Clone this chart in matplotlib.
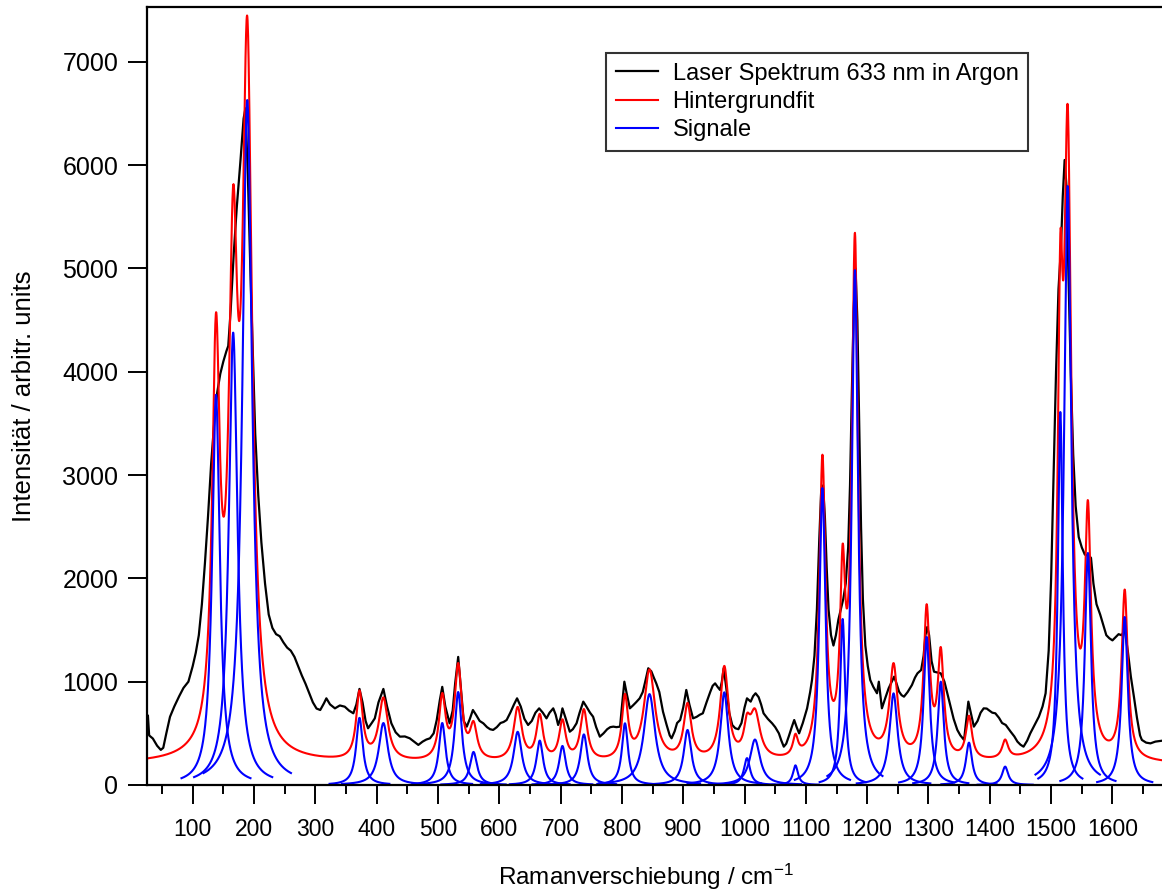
import numpy as np
import matplotlib
matplotlib.use("Agg")
import matplotlib.pyplot as plt

plt.rcParams['font.family'] = ['Liberation Sans', 'DejaVu Sans']
plt.rcParams['mathtext.default'] = 'regular'

# gemessenes Spektrum (Ramanverschiebung in cm-1, Intensitaet)
spec_x = [27, 29, 35, 42, 48, 52, 57, 63, 70, 78, 85, 93, 100, 105, 110, 115, 120, 125, 130, 135,
          140, 145, 150, 155, 158, 162, 167, 172, 178, 183, 186, 190, 194, 198, 202, 207, 212, 218, 224, 230,
          236, 242, 248, 254, 260, 266, 272, 278, 284, 290, 296, 302, 308, 314, 318, 324, 332, 340, 348, 355,
          362, 367, 372, 377, 382, 386, 392, 397, 403, 411, 417, 424, 431, 438, 446, 454, 461, 468, 475, 481,
          487, 493, 498, 503, 507, 512, 519, 524, 528, 533, 538, 542, 547, 552, 557, 562, 568, 574, 580, 585,
          590, 596, 602, 607, 612, 618, 624, 629, 635, 641, 647, 653, 659, 665, 671, 677, 682, 688, 692, 696,
          700, 703, 708, 715, 720, 726, 731, 737, 742, 748, 753, 758, 764, 770, 776, 781, 786, 791, 797, 800,
          804, 808, 813, 818, 823, 829, 834, 838, 843, 848, 852, 856, 861, 867, 873, 878, 881, 886, 890, 895,
          900, 905, 910, 916, 922, 927, 932, 938, 944, 948, 952, 956, 960, 963, 966, 970, 975, 980, 985, 990,
          995, 1000, 1004, 1010, 1014, 1018, 1023, 1027, 1031, 1038, 1045, 1050, 1056, 1060, 1064, 1068, 1072, 1077, 1081, 1085,
          1089, 1095, 1102, 1107, 1110, 1114, 1118, 1122, 1125, 1128, 1131, 1134, 1137, 1141, 1145, 1149, 1153, 1157, 1161, 1165,
          1169, 1172, 1175, 1178, 1181, 1184, 1187, 1190, 1193, 1197, 1201, 1205, 1210, 1216, 1219, 1224, 1230, 1235, 1240, 1244,
          1248, 1252, 1256, 1260, 1266, 1273, 1278, 1282, 1288, 1292, 1295, 1298, 1301, 1305, 1309, 1314, 1320, 1326, 1331, 1336,
          1341, 1347, 1352, 1358, 1362, 1365, 1369, 1374, 1380, 1385, 1390, 1395, 1398, 1404, 1409, 1415, 1420, 1426, 1434, 1440,
          1445, 1450, 1455, 1461, 1466, 1473, 1480, 1486, 1491, 1496, 1500, 1504, 1508, 1512, 1516, 1519, 1522, 1525, 1528, 1532,
          1536, 1540, 1545, 1550, 1555, 1560, 1565, 1569, 1574, 1580, 1585, 1590, 1595, 1600, 1605, 1610, 1615, 1620, 1625, 1630,
          1635, 1640, 1645, 1648, 1655, 1662, 1670, 1682, 1695]
spec_y = [670, 480, 450, 380, 340, 360, 500, 660, 760, 860, 940, 1000, 1150, 1280, 1450, 1750, 2150, 2600, 3100, 3500,
          3800, 3980, 4100, 4200, 4250, 4600, 5150, 5600, 6050, 6450, 6550, 5900, 5000, 4200, 3400, 2800, 2350, 1950, 1650, 1520,
          1460, 1440, 1380, 1330, 1300, 1240, 1150, 1060, 980, 890, 800, 740, 726, 790, 839, 780, 742, 770, 758, 720,
          694, 780, 930, 800, 620, 549, 600, 645, 800, 930, 760, 597, 510, 468, 470, 452, 420, 388, 420, 440,
          452, 500, 629, 820, 950, 760, 597, 720, 980, 1240, 900, 620, 565, 640, 726, 680, 620, 597, 560, 540,
          533, 560, 600, 610, 629, 700, 780, 839, 760, 640, 581, 620, 700, 742, 700, 645, 700, 742, 680, 581,
          650, 742, 650, 516, 540, 597, 700, 807, 760, 700, 661, 560, 468, 500, 540, 560, 565, 560, 565, 760,
          1000, 880, 742, 770, 800, 839, 900, 1000, 1130, 1100, 1040, 984, 900, 710, 580, 480, 452, 520, 600, 629,
          750, 920, 780, 645, 660, 680, 694, 800, 900, 960, 984, 950, 920, 1000, 1130, 950, 700, 580, 549, 540,
          600, 750, 839, 807, 860, 888, 850, 780, 694, 640, 597, 560, 500, 430, 371, 400, 468, 560, 629, 560,
          500, 600, 742, 900, 1016, 1250, 1700, 2400, 2850, 2900, 2600, 2100, 1700, 1450, 1350, 1450, 1600, 1700, 1800, 1950,
          2300, 2900, 3800, 4600, 5000, 4500, 3500, 2500, 1800, 1350, 1150, 1016, 950, 888, 1000, 742, 850, 936, 1000, 1049,
          980, 904, 870, 855, 900, 968, 1040, 1081, 1113, 1250, 1450, 1530, 1450, 1200, 1097, 1090, 1081, 1000, 880, 758,
          640, 533, 480, 436, 650, 807, 700, 565, 620, 700, 742, 740, 726, 700, 694, 650, 600, 581, 516, 470,
          420, 390, 371, 430, 500, 580, 661, 760, 888, 1300, 2000, 3000, 4000, 4800, 5200, 5700, 6050, 5800, 5000, 4000,
          3200, 2700, 2400, 2300, 2230, 2220, 2200, 1950, 1750, 1650, 1550, 1450, 1420, 1400, 1430, 1460, 1450, 1500, 1300, 1050,
          855, 650, 480, 436, 410, 403, 420, 430, 430]

# Lorentz-Signale: Lage, Hoehe, Halbwertsbreite (HWHM)
peak_pos = [138, 166, 189, 372, 411, 507, 533, 558, 630, 666, 703, 738, 805, 845, 907, 967,
            1004, 1017, 1083, 1127, 1160, 1180, 1243, 1297, 1320, 1366, 1425, 1515, 1527, 1560, 1620]
peak_height = [3778, 4380, 6632, 650, 600, 600, 900, 320, 515, 430, 378, 490, 597, 880, 533, 897,
               260, 440, 190, 2875, 1607, 4985, 887, 1433, 1000, 410, 178, 3611, 5799, 2246, 1626]
peak_hwhm = [7.5, 8.5, 9.5, 6.5, 9, 6.5, 7, 7, 8, 6.5, 6.5, 7, 6, 11, 7.5, 8,
             6, 10, 5, 6, 5, 6, 8, 6, 6, 6, 6, 4.8, 7, 6, 6]
background = 200


def lorentz(x, c, a, w):
    return a / (1.0 + ((x - c) / w) ** 2)


x_fit = np.linspace(25, 1695, 4000)
fit = background + sum(lorentz(x_fit, c, a, w) for c, a, w in zip(peak_pos, peak_height, peak_hwhm))

fig = plt.figure(figsize=(11.62, 8.94), dpi=100)
ax = fig.add_axes([146.7 / 1162, 109 / 894, 1024 / 1162, 778 / 894])

ax.plot(spec_x, spec_y, color='black', lw=1.6, label='Laser Spektrum 633 nm in Argon')
ax.plot(x_fit, fit, color='red', lw=1.5, label='Hintergrundfit')
for i, (c, a, w) in enumerate(zip(peak_pos, peak_height, peak_hwhm)):
    xs = np.linspace(c - 7.5 * w, c + 7.5 * w, 400)
    ax.plot(xs, lorentz(xs, c, a, w), color='blue', lw=1.5,
            label='Signale' if i == 0 else None)

ax.set_xlim(25, 1695)
ax.set_ylim(0, 7531)
ax.set_xticks(np.arange(100, 1700, 100))
ax.set_xticks(np.arange(50, 1700, 100), minor=True)
ax.set_yticks(np.arange(0, 8000, 1000))
ax.tick_params(axis='both', which='major', direction='out', length=13.5, width=1.4)
ax.tick_params(axis='x', which='minor', direction='out', length=6.5, width=1.4)
ax.tick_params(axis='x', labelsize=16.5, pad=10)
ax.tick_params(axis='y', labelsize=18, pad=7)
ax.tick_params(top=False, right=False)
for s in ['left', 'bottom', 'top', 'right']:
    ax.spines[s].set_linewidth(1.6)

ax.set_ylabel('Intensität / arbitr. units', fontsize=18.5)
ax.yaxis.set_label_coords(-0.108, 0.5)
ax.set_xlabel(r'Ramanverschiebung / cm$^{-1}$', fontsize=17.5)
ax.xaxis.set_label_coords(0.487, -0.099)

leg = ax.legend(loc='upper left', bbox_to_anchor=(606 / 1162, 1 - 52.7 / 894),
                bbox_transform=fig.transFigure, fontsize=17, frameon=True, fancybox=False,
                edgecolor='black', handlelength=1.8, handletextpad=0.6, labelspacing=0.27,
                borderpad=0.42, borderaxespad=0)
leg.get_frame().set_linewidth(1.5)

fig.savefig('out.png', dpi=100)
